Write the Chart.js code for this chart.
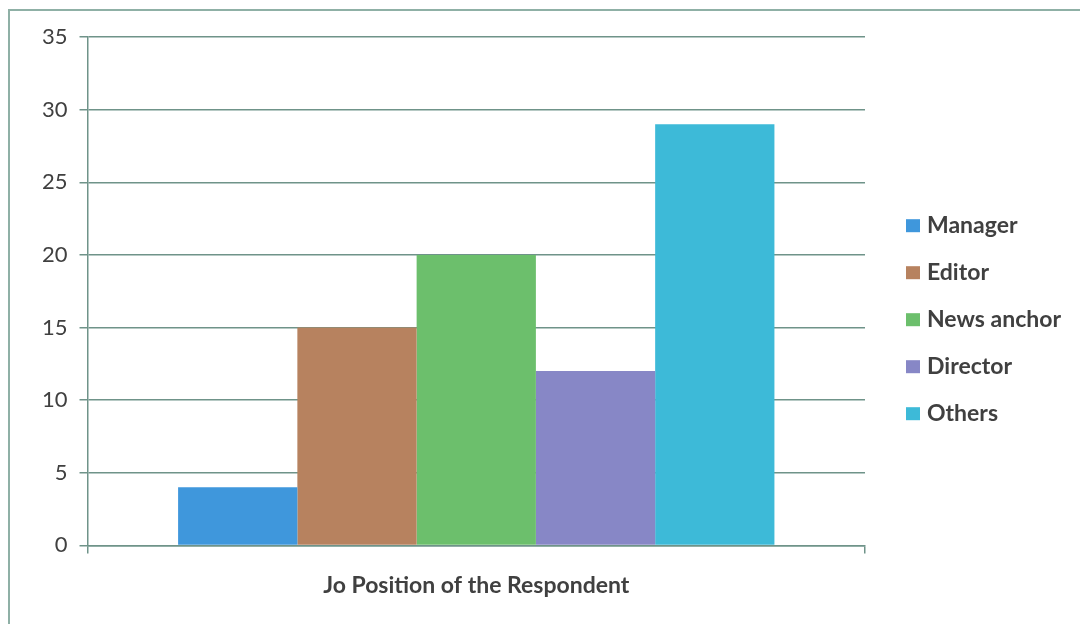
<!DOCTYPE html>
<html>
<head>
<meta charset="utf-8">
<script src="https://cdn.jsdelivr.net/npm/chart.js@4"></script>
<style>
  html, body { margin: 0; padding: 0; background: #fff; }
  #wrap { position: relative; width: 1080px; height: 624px; }
  #frame { position: absolute; left: 8px; top: 9px; right: 0; bottom: 0;
           border-left: 2px solid #8fb0a6; border-top: 2px solid #8fb0a6; }
  canvas { position: absolute; left: 0; top: 0; }
</style>
</head>
<body>
<div id="wrap">
  <div id="frame"></div>
  <canvas id="chart" width="1080" height="624"></canvas>
</div>
<script>
// data
const categories = ['Jo Position of the Respondent'];
const seriesNames = ['Manager', 'Editor', 'News anchor', 'Director', 'Others'];
const seriesValues = [4, 15, 20, 12, 29];
const seriesColors = ['#3f97dc', '#b7825f', '#6cbf6c', '#8787c6', '#3dbad8'];
const yTicks = [0, 5, 10, 15, 20, 25, 30, 35];

const gridColor = '#6f9389';
const textColor = '#404040';

// legend drawn by hand so it sits where the original one does
const sideLegend = {
    id: 'sideLegend',
    afterDraw(chart) {
        const ctx = chart.ctx;
        const area = chart.chartArea;
        const mid = (area.top + area.bottom) / 2 + 28;
        ctx.save();
        ctx.font = 'bold 23px Lato';
        ctx.textBaseline = 'middle';
        ctx.textAlign = 'left';
        chart.data.datasets.forEach(function(ds, i) {
            const y = mid + (i - 2) * 47;
            ctx.fillStyle = ds.backgroundColor;
            ctx.fillRect(area.right + 41, y - 6, 14, 13);
            ctx.fillStyle = textColor;
            ctx.fillText(ds.label, area.right + 62, y);
        });
        ctx.restore();
    }
};

const ctx = document.getElementById('chart').getContext('2d');
const chart = new Chart(ctx, {
    type: 'bar',
    data: {
        labels: categories,
        datasets: seriesNames.map(function(name, i) {
            return {
                label: name,
                data: [seriesValues[i]],
                backgroundColor: seriesColors[i],
                borderWidth: 0,
                categoryPercentage: 0.767,
                barPercentage: 1.0
            };
        })
    },
    options: {
        responsive: false,
        animation: false,
        layout: {
            padding: { left: 30, right: 215, top: 37, bottom: 7 }
        },
        scales: {
            x: {
                grid: {
                    drawOnChartArea: false,
                    color: gridColor,
                    tickLength: 8,
                    lineWidth: 1.5
                },
                border: { color: gridColor, width: 1.5 },
                ticks: {
                    color: textColor,
                    font: { family: 'Lato', size: 23, weight: 'bold' },
                    padding: 18
                }
            },
            y: {
                min: 0,
                max: 35,
                afterBuildTicks: function(axis) {
                    axis.ticks = yTicks.map(v => ({ value: v }));
                },
                grid: {
                    color: gridColor,
                    tickLength: 8,
                    lineWidth: 1.5
                },
                border: { color: gridColor, width: 1.5 },
                ticks: {
                    color: textColor,
                    font: { family: 'Lato', size: 22 },
                    padding: 12
                }
            }
        },
        plugins: {
            legend: { display: false },
            tooltip: { enabled: false }
        }
    },
    plugins: [sideLegend]
});
</script>
</body>
</html>
